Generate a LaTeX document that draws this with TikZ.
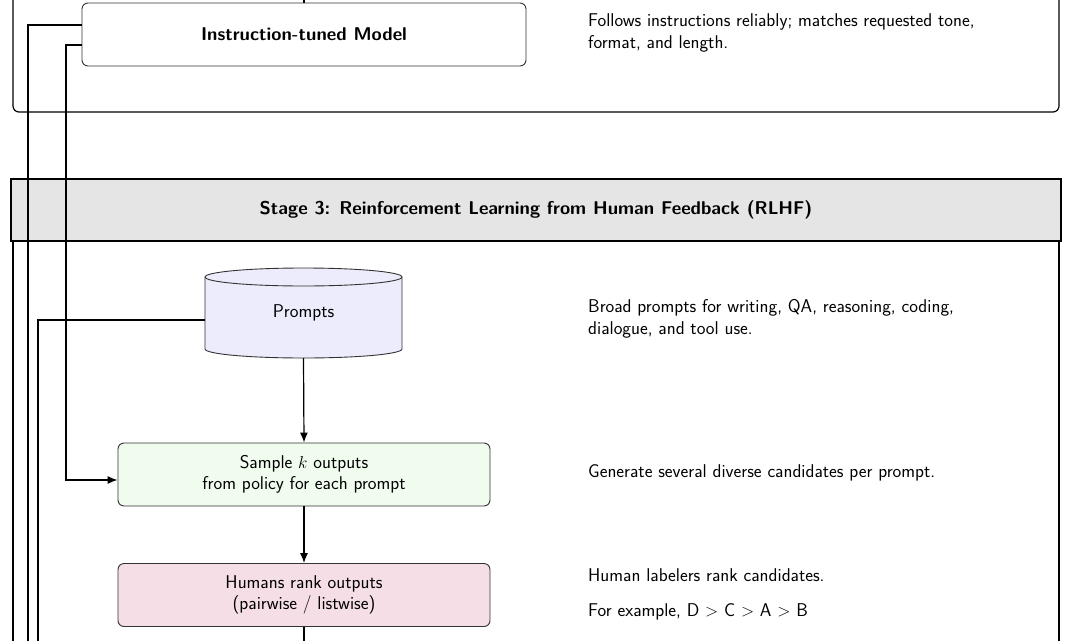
\documentclass[tikz,border=0pt]{standalone}
\usetikzlibrary{shapes.geometric,arrows.meta}
\begin{document}
\begin{tikzpicture}[x=1pt,y=-1pt,
  every node/.style={font=\sffamily\fontsize{18.5}{21.5}\selectfont},
  box/.style={draw=black!80,line width=0.9pt,rounded corners=6pt,align=center,minimum width=372pt,minimum height=63pt},
  desc/.style={anchor=west,align=left,inner sep=0pt},
  line/.style={line width=1.2pt},
  arr/.style={line,-{Latex[length=10pt,width=8pt]}}]
\useasboundingbox (0,0) rectangle (1073,640);
\draw[line,rounded corners=6pt] (13,-20) -- (13,112) -- (1059,112) -- (1059,-20);
\node[box,minimum width=444pt] (model) at (304,34.5) {\bfseries Instruction-tuned Model};
\coordinate (top) at (304,-10);
\draw[line] (top) -- (model.north);
\node[desc] (t1) at (588,33) {Follows instructions reliably; matches requested tone,\\[1pt]format, and length.};
\node[draw,line width=1.2pt,fill=black!10,minimum width=1050pt,minimum height=62pt,inner sep=0pt] (hdr) at (536,210) {\bfseries Stage 3: Reinforcement Learning from Human Feedback (RLHF)};
\draw[line] (13,241) -- (13,660);
\draw[line] (1059,241) -- (1059,660);
% cylinder
\draw[draw=black!80,line width=0.9pt,fill={rgb,255:red,236;green,236;blue,252}]
  (205,277) -- (205,349) arc[start angle=180,end angle=0,x radius=98.5,y radius=9] -- (402,277)
  arc[start angle=0,end angle=-180,x radius=98.5,y radius=9] -- cycle;
\draw[draw=black!80,line width=0.9pt] (205,277) arc[start angle=180,end angle=0,x radius=98.5,y radius=9];
\node[minimum width=197pt,minimum height=90pt,inner sep=0pt] (prompts) at (303.5,313) {Prompts};
\node[desc] (t2) at (588,319) {Broad prompts for writing, QA, reasoning, coding,\\[1pt]dialogue, and tool use.};
\node[box,fill={rgb,255:red,240;green,253;blue,238}] (sample) at (304,474.5) {Sample $k$ outputs\\from policy for each prompt};
\node[desc] (t3) at (588,473) {Generate several diverse candidates per prompt.};
\node[box,fill={rgb,255:red,245;green,222;blue,230}] (rank) at (304,595) {Humans rank outputs\\(pairwise / listwise)};
\node[desc] (t4) at (588,575) {Human labelers rank candidates.};
\node[desc] (t5) at (588,612) {For example, D $>$ C $>$ A $>$ B};
\draw[arr] (prompts.south) -- (sample.north);
\draw[arr] (sample.south) -- (rank.north);
\coordinate (bot) at (304,660);
\draw[line] (rank.south) -- (bot);
\coordinate (c1) at (28,660);
\draw[line] (model.west |- 0,25) -- (28,25) -- (c1);
\draw[arr] (model.west |- 0,45) -- (66,45) -- (66,480) -- (sample.west |- 0,480);
\coordinate (c2) at (38,660);
\draw[line] (prompts.west |- 0,320) -- (38,320) -- (c2);
\end{tikzpicture}
\end{document}
